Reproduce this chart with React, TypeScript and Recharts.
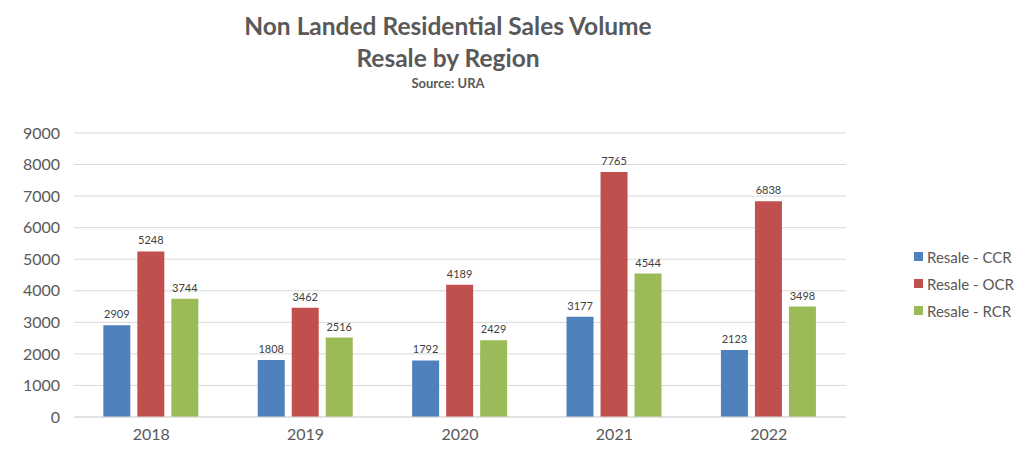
import { BarChart, Bar, XAxis, YAxis, CartesianGrid, LabelList } from "recharts";

const years = ["2018", "2019", "2020", "2021", "2022"];
const ccr = [2909, 1808, 1792, 3177, 2123];
const ocr = [5248, 3462, 4189, 7765, 6838];
const rcr = [3744, 2516, 2429, 4544, 3498];
const yTicks = [0, 1000, 2000, 3000, 4000, 5000, 6000, 7000, 8000, 9000];

const series = [
  { key: "ccr", name: "Resale - CCR", color: "#4f81bd" },
  { key: "ocr", name: "Resale - OCR", color: "#c0504d" },
  { key: "rcr", name: "Resale - RCR", color: "#9bbb59" },
];

const data = years.map((year, i) => ({ year, ccr: ccr[i], ocr: ocr[i], rcr: rcr[i] }));

const font = "Lato, 'Open Sans', sans-serif";

function LegendBox() {
  return (
    <div style={{ position: "absolute", left: 914, top: 243, fontFamily: font, fontSize: 15, color: "#595959" }}>
      {series.map((s) => (
        <div key={s.key} style={{ display: "flex", alignItems: "center", height: 27 }}>
          <span style={{ width: 9, height: 9, background: s.color, marginRight: 4 }} />
          {s.name}
        </div>
      ))}
    </div>
  );
}

export default function App() {
  return (
    <div style={{ position: "absolute", left: 0, top: 0, width: 1024, height: 474, background: "#fff", fontFamily: font }}>
      <div style={{ position: "absolute", left: 0, width: 896, top: 10, textAlign: "center", color: "#595959" }}>
        <div style={{ fontSize: 24.5, fontWeight: 700, lineHeight: "32px" }}>Non Landed Residential Sales Volume</div>
        <div style={{ fontSize: 24.5, fontWeight: 700, lineHeight: "32px" }}>Resale by Region</div>
        <div style={{ fontSize: 13, fontWeight: 700, lineHeight: "18px" }}>Source: URA</div>
      </div>
      <BarChart
        width={1024}
        height={474}
        data={data}
        margin={{ top: 133, right: 178, bottom: 27, left: 14 }}
        barCategoryGap="19%"
        barGap={7}
        style={{ position: "absolute", left: 0, top: 0 }}
      >
        <CartesianGrid vertical={false} stroke="#d9d9d9" />
        <XAxis
          dataKey="year"
          height={30}
          tickLine={false}
          axisLine={{ stroke: "#d9d9d9" }}
          tick={{ fontSize: 16, fill: "#595959", fontFamily: font }}
          tickMargin={6}
        />
        <YAxis
          width={60}
          domain={[0, 9000]}
          ticks={yTicks}
          interval={0}
          tickLine={false}
          axisLine={false}
          tick={{ fontSize: 16, fill: "#595959", fontFamily: font }}
          tickMargin={8}
        />
        {series.map((s) => (
          <Bar key={s.key} dataKey={s.key} name={s.name} fill={s.color} isAnimationActive={false}>
            <LabelList dataKey={s.key} position="top" offset={7} style={{ fontSize: 11, fill: "#404040", fontFamily: font }} />
          </Bar>
        ))}
      </BarChart>
      <LegendBox />
    </div>
  );
}
